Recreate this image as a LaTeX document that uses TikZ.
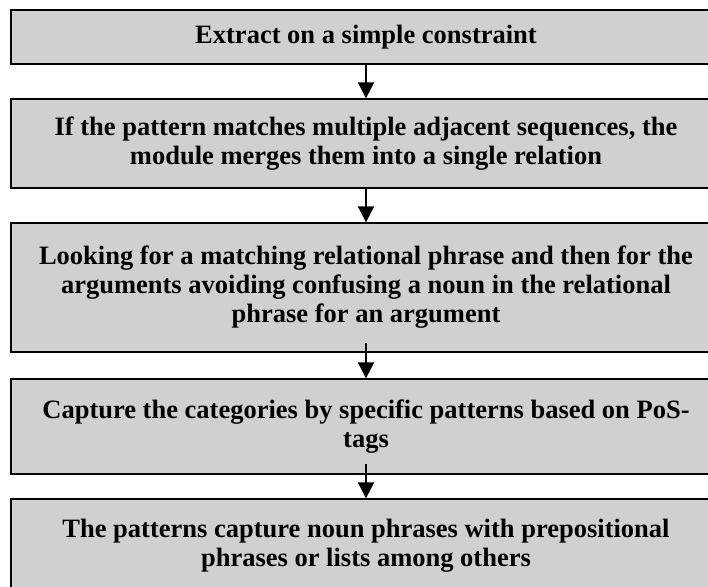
\documentclass[tikz,border=0pt]{standalone}
\usepackage{fontspec}
\setmainfont{Liberation Serif}
\usetikzlibrary{arrows.meta}
\definecolor{boxgray}{RGB}{209,207,210}
\begin{document}
\begin{tikzpicture}[x=1pt,y=-1pt,
    phase/.style={draw,line width=1.3pt,fill=boxgray,minimum width=710pt,inner sep=0pt,
      align=center,font=\fontsize{26.5}{29}\selectfont\bfseries},
    flow/.style={-{Triangle[width=16pt,length=16pt]},line width=2pt}]
    \useasboundingbox (0,0) rectangle (708,586);
    \clip (0,0) rectangle (708,586);

    \node[phase,minimum height=54pt]  (extract)    at (366,37)    {Extract on a simple constraint};
    \node[phase,minimum height=89pt]  (merge)      at (366,143.5) {If the pattern matches multiple adjacent sequences, the\\module merges them into a single relation};
    \node[phase,minimum height=129pt] (relational) at (366,287.5) {Looking for a matching relational phrase and then for the\\arguments avoiding confusing a noun in the relational\\phrase for an argument};
    \node[phase,minimum height=95pt]  (capture)    at (366,426.5) {Capture the categories by specific patterns based on PoS-\\tags};
    \node[phase,minimum height=94pt]  (nouns)      at (366,546)   {The patterns capture noun phrases with prepositional\\phrases or lists among others};

    \path [flow] (extract) edge (merge);
    \path [flow] (merge) edge (relational);
    \path [flow] ([yshift=10pt]relational.south) edge (capture);
    \path [flow] ([yshift=11pt]capture.south) edge (nouns);
\end{tikzpicture}
\end{document}
